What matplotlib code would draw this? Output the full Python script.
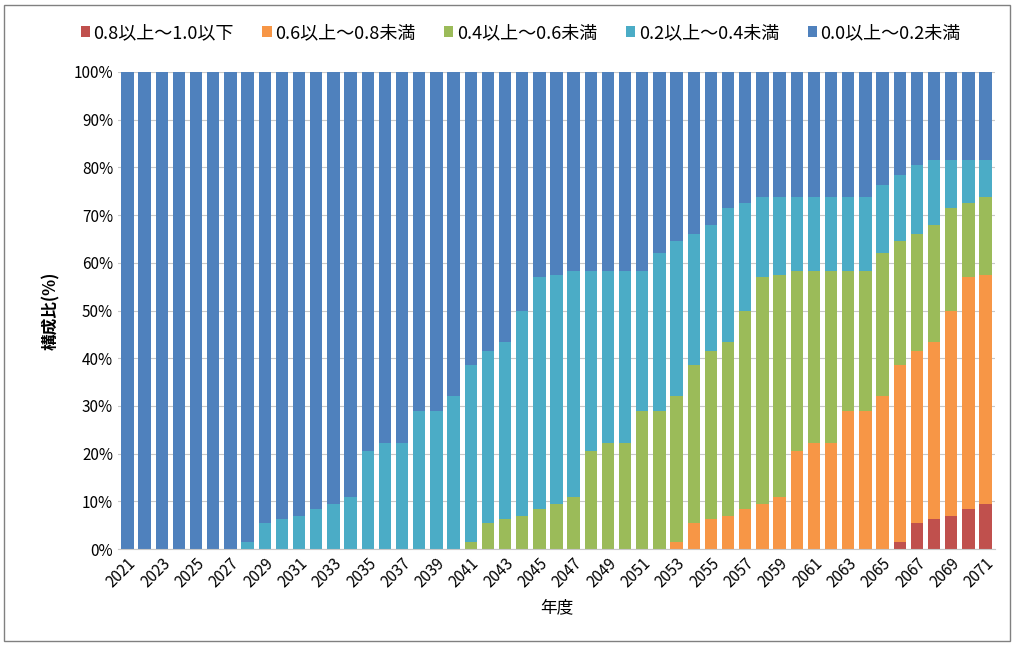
import matplotlib
matplotlib.use("Agg")
import matplotlib.pyplot as plt
import numpy as np
from matplotlib.patches import Rectangle
from matplotlib.ticker import PercentFormatter

plt.rcParams['font.family'] = ['Noto Sans CJK JP', 'DejaVu Sans']

years = list(range(2021, 2072))

# shares (%) per year, 2021..2071
share_08_10 = [0] * 45 + [1.5, 5.5, 6.2, 7.0, 8.3, 9.5]
share_06_08 = ([0] * 32
               + [1.5, 5.5, 6.2, 7.0, 8.3, 9.5, 11.0, 20.5, 22.2, 22.2, 29.0, 29.0, 32.0,
                  37.0, 36.0, 37.1, 43.0, 48.7, 48.0])
share_04_06 = ([0] * 20
               + [1.5, 5.5, 6.2, 7.0, 8.3, 9.5, 11.0, 20.5, 22.2, 22.2, 29.0, 29.0,
                  30.5, 33.0, 35.3, 36.3, 41.7, 47.5, 46.5, 37.8, 36.1, 36.1, 29.3, 29.3,
                  30.0, 26.0, 24.5, 24.7, 21.5, 15.5, 16.2])
share_02_04 = ([0] * 7
               + [1.5, 5.5, 6.2, 7.0, 8.3, 9.5, 11.0, 20.5, 22.2, 22.2, 29.0, 29.0, 32.0,
                  37.0, 36.0, 37.1, 43.0, 48.7, 48.0, 47.3, 37.8, 36.1, 36.1, 29.3, 33.0,
                  32.5, 27.5, 26.5, 28.2, 22.5, 16.7, 16.2, 15.4, 15.4, 15.4, 15.4, 15.4,
                  14.3, 14.0, 14.5, 13.5, 10.0, 9.0, 7.8])
share_00_02 = [100 - a - b - c - d for a, b, c, d in
               zip(share_08_10, share_06_08, share_04_06, share_02_04)]

labels = ['0.8以上～1.0以下', '0.6以上～0.8未満', '0.4以上～0.6未満',
          '0.2以上～0.4未満', '0.0以上～0.2未満']
colors = ['#C0504D', '#F79646', '#9BBB59', '#4BACC6', '#4F81BD']
series = [share_08_10, share_06_08, share_04_06, share_02_04, share_00_02]

fig = plt.figure(figsize=(10.15, 6.55), dpi=100)
ax = fig.add_axes([118 / 1015, 1 - 549 / 655, 877 / 1015, 477 / 655])

x = np.arange(len(years))
bottom = np.zeros(len(years))
for vals, lab, col in zip(series, labels, colors):
    ax.bar(x, vals, bottom=bottom, width=0.72, color=col, label=lab, zorder=2)
    bottom += np.array(vals)

ax.set_xlim(-0.55, len(years) - 0.45)
ax.set_ylim(0, 100)
ax.set_yticks(range(0, 101, 10))
ax.yaxis.set_major_formatter(PercentFormatter(decimals=0))
ax.grid(axis='y', color='#C8C8C8', linewidth=0.8, zorder=0)
ax.set_xticks(x[::2])
ax.set_xticklabels([str(y) for y in years[::2]], rotation=45, ha='right',
                   rotation_mode='anchor', fontsize=11)
ax.tick_params(axis='y', labelsize=11, length=0)
ax.tick_params(axis='x', length=0, pad=4)
for s in ['top', 'right', 'left']:
    ax.spines[s].set_visible(False)
ax.spines['bottom'].set_color('#C8C8C8')

ax.set_ylabel('構成比(%)', fontsize=12, fontweight='bold', labelpad=10)
ax.set_xlabel('年度', fontsize=12, labelpad=6)

handles, labs = ax.get_legend_handles_labels()
fig.legend(handles, labs, loc='center', bbox_to_anchor=(0.513, 1 - 33 / 655),
           ncol=5, frameon=False, fontsize=13, handlelength=0.5, handleheight=0.5,
           handletextpad=0.2, columnspacing=1.6)

# outer frame
fig.patches.append(Rectangle((4 / 1015, 1 - 641 / 655), 1006 / 1015, 636 / 655,
                             transform=fig.transFigure, fill=False,
                             edgecolor='#808080', linewidth=1))

fig.savefig('out.png', dpi=100)
